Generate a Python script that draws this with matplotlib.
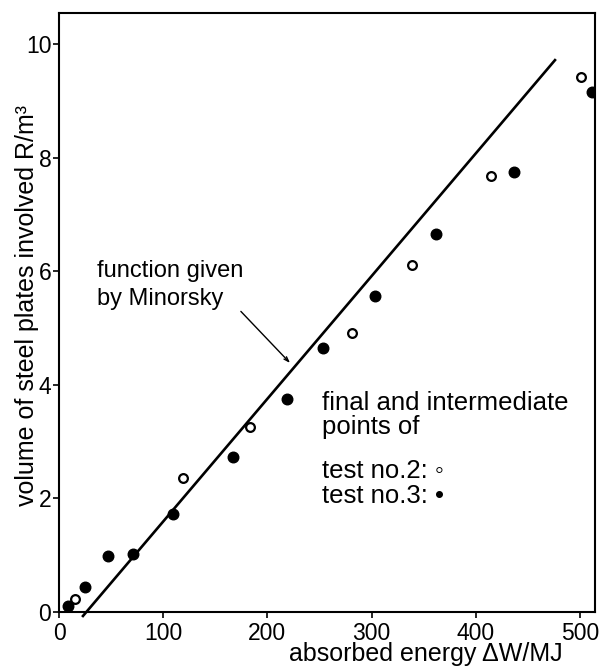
import numpy as np
import matplotlib
matplotlib.use('Agg')
import matplotlib.pyplot as plt

plt.rcParams['font.family'] = ['Liberation Sans', 'DejaVu Sans']

# test no.2 (open circles)
test2_w = [15.4, 119.0, 183.3, 281.2, 338.8, 414.6, 501.0]
test2_r = [0.23, 2.36, 3.26, 4.91, 6.11, 7.68, 9.42]

# test no.3 (filled circles)
test3_w = [8.6, 25.0, 47.0, 71.0, 109.4, 167.0, 218.8, 253.4, 303.3, 361.8, 436.7, 511.5]
test3_r = [0.11, 0.44, 0.99, 1.02, 1.73, 2.73, 3.75, 4.65, 5.56, 6.65, 7.75, 9.15]

# Minorsky line (end points)
minorsky_w = [23.0, 476.0]
minorsky_r = [-0.07, 9.72]

x_ticks = [0, 100, 200, 300, 400, 500]
y_ticks = [0, 2, 4, 6, 8, 10]

fig = plt.figure(figsize=(6.03, 6.66), dpi=100)
ax = fig.add_axes([59/603, 54/666, 536/603, 599/666])

ax.plot(minorsky_w, minorsky_r, color='black', lw=1.9, clip_on=False, zorder=2)
ax.plot(test2_w, test2_r, 'o', ms=6.3, mfc='white', mec='black', mew=1.6, ls='none', zorder=3)
ax.plot(test3_w, test3_r, 'o', ms=7.6, mfc='black', mec='black', ls='none', zorder=3)

ax.set_xlim(0, 514.4)
ax.set_ylim(0, 10.55)
ax.set_xticks(x_ticks)
ax.set_yticks(y_ticks)
ax.tick_params(axis='both', direction='out', length=4, width=1.2, labelsize=16.5)
ax.tick_params(axis='x', pad=3)
ax.tick_params(axis='y', pad=1.5)
for s in ax.spines.values():
    s.set_linewidth(1.5)

ax.set_xlabel('absorbed energy \u0394W/MJ', fontsize=18)
ax.xaxis.set_label_coords(0.685, -0.05)
ax.set_ylabel('volume of steel plates involved R/m\u00b3', fontsize=18)
ax.yaxis.set_label_coords(-0.037, 0.5125)

# annotation for the line
ax.text(36.5, 5.90, 'function given', fontsize=17, va='baseline')
ax.text(36.5, 5.40, 'by Minorsky', fontsize=17, va='baseline')
ax.annotate('', xy=(223.6, 4.35), xytext=(172.7, 5.33),
            arrowprops=dict(arrowstyle='->,head_length=0.35,head_width=0.12', color='black', lw=1.0))

# explanation text
ax.text(252.4, 3.56, 'final and intermediate', fontsize=18.5, va='baseline')
ax.text(252.4, 3.13, 'points of', fontsize=18.5, va='baseline')
ax.text(252.4, 2.36, 'test no.2: \u25e6', fontsize=18.5, va='baseline')
ax.text(252.4, 1.92, 'test no.3: \u2022', fontsize=18.5, va='baseline')

fig.savefig('out.png', dpi=100)
